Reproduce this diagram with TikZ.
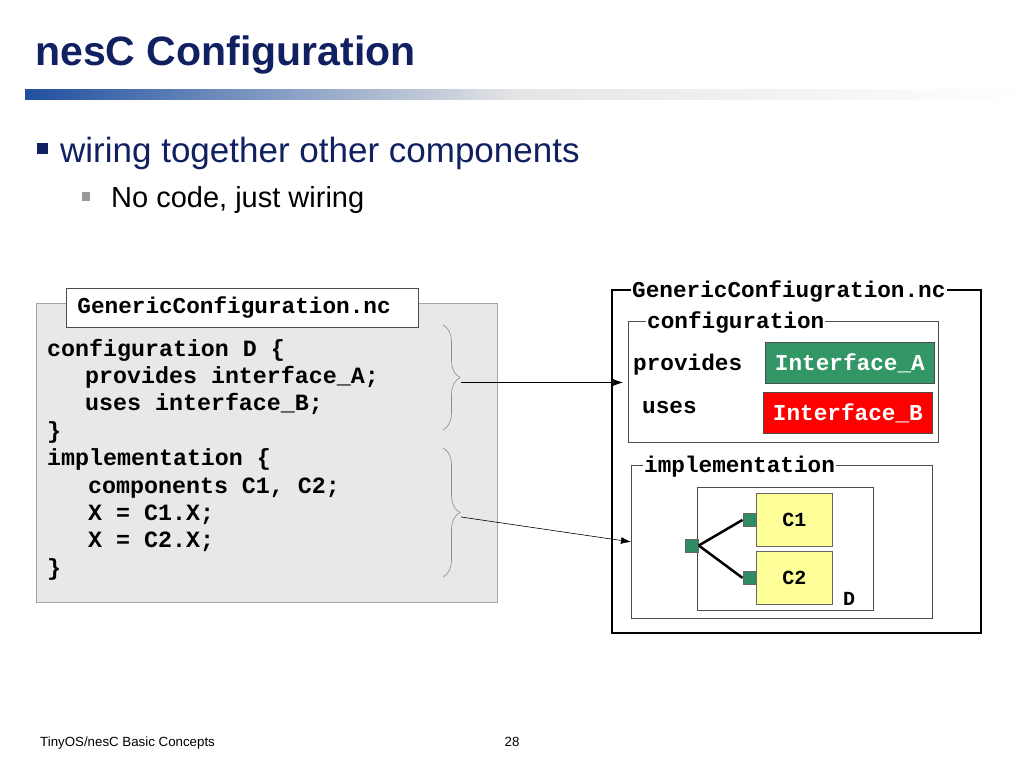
\documentclass[tikz,border=0pt]{standalone}
\usepackage{fontspec}
\setmainfont{Liberation Sans}
\setmonofont{Liberation Mono}
\usetikzlibrary{decorations.pathreplacing,arrows.meta}
\definecolor{titleblue}{RGB}{16,32,96}
\definecolor{barblue}{RGB}{32,80,160}
\definecolor{panelgray}{RGB}{232,232,232}
\definecolor{portgreen}{RGB}{46,139,100}
\definecolor{ifgreen}{RGB}{51,150,102}
\definecolor{compyellow}{RGB}{255,255,153}
\newcommand{\monob}{\ttfamily\bfseries\fontsize{22.7}{26}\selectfont}
\newcommand{\codeline}[3]{node[codetext,anchor=base west](code#1) at (#2) {#3}}

\begin{document}
\begin{tikzpicture}[x=1pt,y=-1pt,
      every node/.style={inner sep=0pt},
      pointer/.style={-{Latex[length=10pt,width=7pt]},draw=black,line width=0.6pt},
      wire/.style={draw=black,line width=2.5pt},
      brace/.style={decorate,decoration={brace,amplitude=17pt},draw=black!45,line width=0.6pt},
      frame/.style={draw=black!70,line width=0.8pt,anchor=north west},
      legend/.style={font=\monob,fill=white,inner xsep=1pt,inner ysep=1pt,anchor=base west},
      codetext/.style={font=\ttfamily\bfseries\fontsize{23.3}{27}\selectfont},
      ifbox/.style={draw=black!70,line width=0.8pt,font=\monob,text=white,minimum width=169,minimum height=41,anchor=north west},
      comp/.style={draw=black!60,line width=0.8pt,fill=compyellow,font=\ttfamily\bfseries\fontsize{20}{24}\selectfont,minimum width=76,minimum height=53,anchor=north west},
      port/.style={draw=black!60,line width=0.5pt,fill=portgreen,minimum width=13,minimum height=13}
      ]
      \useasboundingbox (0,0) rectangle (1024,768);
      % header
      \node[font=\bfseries\fontsize{41}{48}\selectfont,text=titleblue,anchor=base west] (title) at (35,65) {nesC Configuration};
      \shade[left color=barblue,right color=black!10] (25,89) rectangle (520,99);
      \shade[left color=black!10,right color=white] (520,89) rectangle (1024,99);
      \fill[titleblue] (37,143) rectangle (48,154);
      \node[font=\fontsize{35}{40}\selectfont,text=titleblue,anchor=base west] (bullet) at (60,162) {wiring together other components};
      \fill[black!40] (82,192) rectangle (90,201);
      \node[font=\fontsize{29}{34}\selectfont,anchor=base west] (subbullet) at (111,207) {No code, just wiring};

      % source file
      \node[frame,draw=black!35,fill=panelgray,minimum width=461,minimum height=299] (panel) at (36,303) {};
      \node[frame,fill=white,minimum width=352,minimum height=39,text width=330,align=left,inner xsep=11pt,font=\monob] (file) at (66,288) {GenericConfiguration.nc};
      \path \codeline{1}{47,356}{configuration D \{}
            \codeline{2}{85,383.4}{provides interface\_A;}
            \codeline{3}{85,410.8}{uses interface\_B;}
            \codeline{4}{47,438.2}{\}}
            \codeline{5}{47,465.6}{implementation \{}
            \codeline{6}{88,493}{components C1, C2;}
            \codeline{7}{88,520.4}{X = C1.X;}
            \codeline{8}{88,547.8}{X = C2.X;}
            \codeline{9}{47,575.2}{\}};
      \draw[brace] (443,325) -- (443,430);
      \draw[brace] (443,448) -- (443,577);
      \coordinate (tipA) at (461,382.5);
      \coordinate (tipB) at (461,517);

      % component picture
      \node[frame,draw=black,line width=2.2pt,minimum width=369,minimum height=343] (nc) at (611,289) {};
      \node[legend] (nclabel) at (631,297) {GenericConfiugration.nc};
      \node[frame,minimum width=310,minimum height=121] (config) at (628,321) {};
      \node[legend] (configlabel) at (646,328.5) {configuration};
      \node[font=\monob,anchor=base west] (provides) at (633,370) {provides};
      \node[font=\monob,anchor=base west] (uses) at (642,413) {uses};
      \node[ifbox,fill=ifgreen] (ifA) at (765,342) {Interface\_A};
      \node[ifbox,fill=red] (ifB) at (763,392) {Interface\_B};
      \node[frame,minimum width=301,minimum height=153] (impl) at (631,465) {};
      \node[legend] (impllabel) at (643,472) {implementation};
      \node[frame,minimum width=176,minimum height=123] (dbox) at (697,487) {};
      \node[font=\ttfamily\bfseries\fontsize{20}{24}\selectfont,anchor=base west] (dlabel) at (843,605) {D};
      \node[comp] (c1) at (756,493) {C1};
      \node[comp] (c2) at (756,551) {C2};
      \node[port] (portD) at (692,545.5) {};
      \node[port,anchor=east] (port1) at (c1.west) {};
      \node[port,anchor=east] (port2) at (c2.west) {};
      \draw[wire] (portD.east) -- (port1.west);
      \draw[wire] (portD.east) -- (port2.west);

      \path (tipA) edge[pointer,shorten >=5pt] (tipA -| config.west);
      \path (tipB) edge[pointer] (impl.west);

      % footer
      \node[font=\fontsize{13.3}{16}\selectfont,anchor=base west] (footer) at (40,746) {TinyOS/nesC Basic Concepts};
      \node[font=\fontsize{13.3}{16}\selectfont,anchor=base] (page) at (512,746) {28};
    \end{tikzpicture}
\end{document}
